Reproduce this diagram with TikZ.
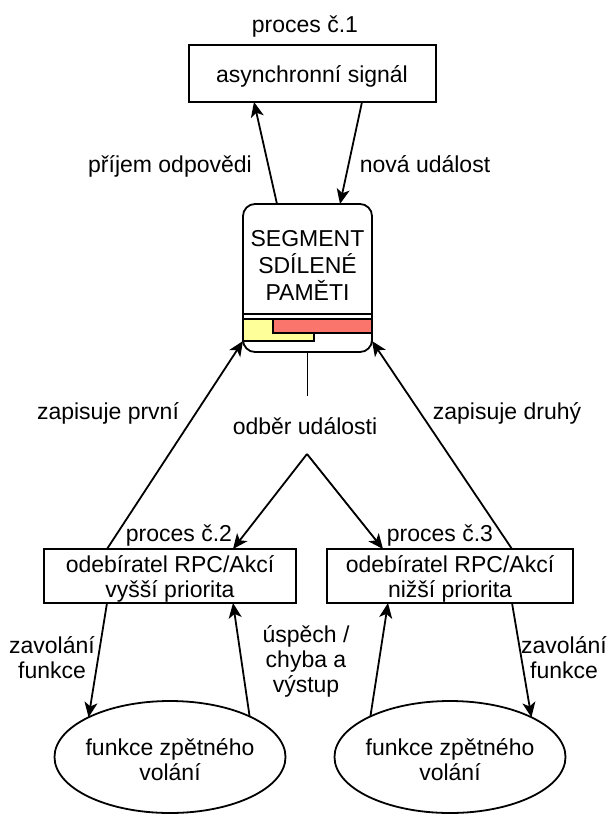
\documentclass[tikz,border=0pt]{standalone}
\usepackage{fontspec}
\setmainfont{Liberation Sans}
\usetikzlibrary{arrows.meta,shapes.geometric}
\definecolor{segyellow}{HTML}{FFFF99}
\definecolor{segred}{HTML}{FA766C}
\begin{document}
\begin{tikzpicture}[x=1pt,y=-1pt,line width=1.8pt,
  every node/.style={inner sep=0pt,outer sep=0pt,font=\fontsize{23}{25}\selectfont},
  rbox/.style={draw,rectangle,inner sep=0pt},
  cbell/.style={draw,ellipse,inner sep=0pt,minimum width=231pt,minimum height=112pt},
  arr/.style={-{Stealth[length=15pt,width=13pt,inset=4pt]}},
  txt/.style={align=center,anchor=base}]
\useasboundingbox (0,0) rectangle (608,814);

% top process
\node[txt] (p1) at (305,32) {proces č.1};
\node[rbox,minimum width=247pt,minimum height=57pt] (sig) at (312.5,73.5) {};
\node[txt] (sigt) at (312,82) {asynchronní signál};
\node[txt] (lrx) at (170,172) {příjem odpovědi};
\node[txt] (lnew) at (425,172) {nová událost};

% shared memory segment
\node[draw,rounded corners=12pt,minimum width=129pt,minimum height=148pt] (seg) at (307.5,278) {};
\node[txt,font=\fontsize{23}{27}\selectfont] (segt) at (307.5,300) {SEGMENT\\SDÍLENÉ\\PAMĚTI};
\filldraw[fill=segyellow] (243,319) rectangle (314,341);
\filldraw[fill=segred] (273,319) rectangle (372,333);
\draw (243,314) -- (372,314);
\draw (243,319) -- (372,319);

\draw[arr] ([xshift=34pt]seg.north west) -- ([xshift=65pt]sig.south west);
\draw[arr] ([xshift=173pt]sig.south west) -- ([xshift=97pt]seg.north west);

% event subscription
\coordinate (vend) at (307.5,396);
\draw (seg.south) -- (vend);
\node[txt] (odber) at (305,434) {odběr události};
\coordinate (apex) at (307,454);

% subscribers
\node[rbox,minimum width=252pt,minimum height=54pt] (rpc2) at (170,576) {};
\node[rbox,minimum width=246pt,minimum height=54pt] (rpc3) at (450,576) {};
\node[txt] (rpc2t) at (170,597) {odebíratel RPC/Akcí\\vyšší priorita};
\node[txt] (rpc3t) at (450,597) {odebíratel RPC/Akcí\\nižší priorita};
\node[txt] (p2) at (179,541) {proces č.2};
\node[txt] (p3) at (440,541) {proces č.3};

\draw[arr] (apex) -- ([xshift=189pt]rpc2.north west);
\draw[arr] (apex) -- ([xshift=56pt]rpc3.north west);

\draw[arr] ([xshift=63pt]rpc2.north west) -- ([yshift=11pt]seg.south west);
\draw[arr] ([xshift=185pt]rpc3.north west) -- ([yshift=11pt]seg.south east);
\node[txt] (zp) at (108,419) {zapisuje první};
\node[txt] (zd) at (507,419) {zapisuje druhý};

% callbacks
\node[cbell] (cb2) at (170,757) {};
\node[cbell] (cb3) at (450,757) {};
\node[txt] (cb2t) at (170,780) {funkce zpětného\\volání};
\node[txt] (cb3t) at (450,780) {funkce zpětného\\volání};

\draw[arr] ([xshift=63pt]rpc2.south west) -- (cb2.154);
\draw[arr] (cb2.27) -- ([xshift=189pt]rpc2.south west);
\draw[arr] (cb3.153) -- ([xshift=61pt]rpc3.south west);
\draw[arr] ([xshift=185pt]rpc3.south west) -- (cb3.26);

\node[txt] (zf2) at (52,678) {zavolání\\funkce};
\node[txt] (zf3) at (564,678) {zavolání\\funkce};
\node[txt] (usp) at (306,692) {úspěch /\\chyba a\\výstup};
\end{tikzpicture}
\end{document}
